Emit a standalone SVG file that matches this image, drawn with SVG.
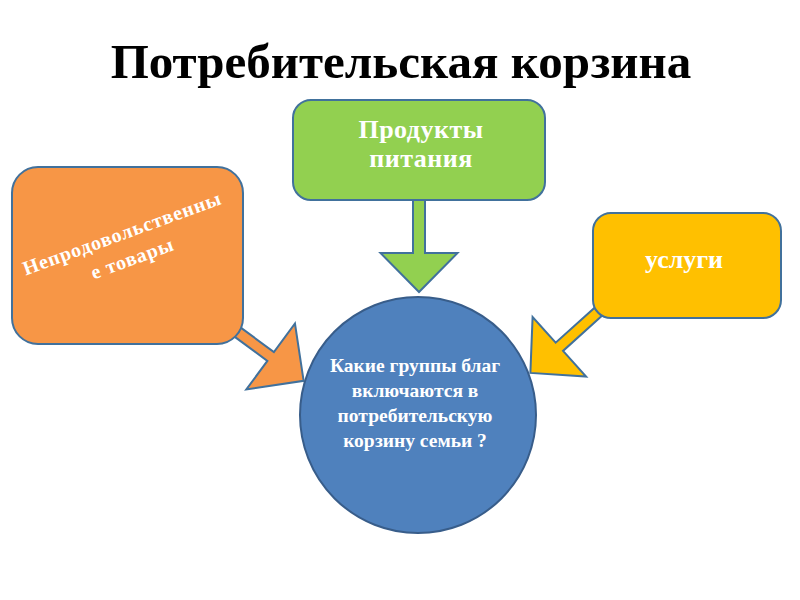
<svg xmlns="http://www.w3.org/2000/svg" width="800" height="600" viewBox="0 0 800 600">
<style>
.box{stroke:#41719C;stroke-width:2}
.arr{stroke:#41719C;stroke-width:2;stroke-linejoin:miter}
.t{font-family:"Liberation Serif","Times New Roman",serif;font-weight:bold;fill:#FFFFFF;text-anchor:middle}
.title{font-family:"Liberation Serif","Times New Roman",serif;font-weight:bold;fill:#000000;text-anchor:middle;font-size:49px}
</style>
<rect width="800" height="600" fill="#FFFFFF"/>
<text class="title" x="401" y="78">Потребительская корзина</text>
<g id="connectors">
  <path class="arr" fill="#F79646" transform="translate(232,328) rotate(36.4)" d="M0,-5.5 L48,-5.5 L48,-41 L89,0 L48,41 L48,5.5 L0,5.5 Z"/>
  <path class="arr" fill="#92D050" transform="translate(419,195) rotate(90)" d="M0,-6 L58,-6 L58,-38.5 L97,0 L58,38.5 L58,6 L0,6 Z"/>
  <path class="arr" fill="#FFC000" transform="translate(598,312) rotate(138)" d="M0,-5.5 L52,-5.5 L52,-40 L91,0 L52,40 L52,5.5 L0,5.5 Z"/>
</g>
<g id="node-nonfood">
  <rect class="box" x="12" y="167" width="231" height="177" rx="26" fill="#F79646"/>
  <g transform="translate(122,233) rotate(-20)">
    <text class="t" x="0" y="7" font-size="20" letter-spacing="0.8">Непродовольственны</text>
    <text class="t" x="1" y="34" font-size="20" letter-spacing="0.8">е товары</text>
  </g>
</g>
<g id="node-food">
  <rect class="box" x="293" y="100" width="252" height="100" rx="18" fill="#92D050"/>
  <text class="t" x="421" y="138" font-size="26" letter-spacing="0.5">Продукты</text>
  <text class="t" x="421" y="167" font-size="26" letter-spacing="0.5">питания</text>
</g>
<g id="node-services">
  <rect class="box" x="593" y="213" width="188" height="105" rx="18" fill="#FFC000"/>
  <text class="t" x="684" y="268" font-size="26">услуги</text>
</g>
<g id="node-question">
  <circle cx="418" cy="415" r="118" fill="#4F81BD" stroke="#385D8A" stroke-width="2"/>
  <text class="t" x="415" y="372" font-size="19.5">Какие группы благ</text>
  <text class="t" x="415" y="397" font-size="19.5">включаются в</text>
  <text class="t" x="415" y="422" font-size="19.5">потребительскую</text>
  <text class="t" x="415" y="447" font-size="19.5">корзину семьи ?</text>
</g>
</svg>
